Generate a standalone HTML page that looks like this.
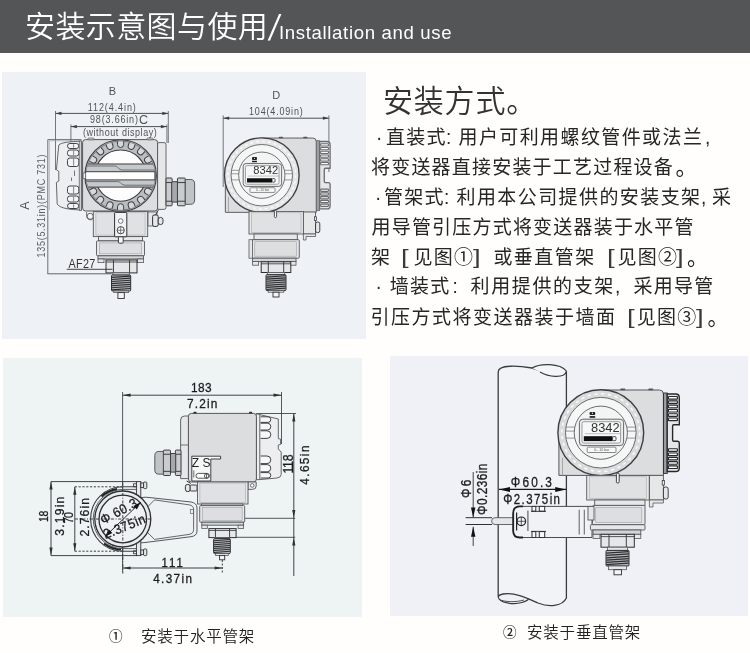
<!DOCTYPE html>
<html lang="zh-CN">
<head>
<meta charset="utf-8">
<title>安装示意图与使用</title>
<style>
html,body{margin:0;padding:0;}
body{width:750px;height:653px;position:relative;overflow:hidden;background:#fffefc;font-family:"Liberation Sans","Noto Sans CJK SC",sans-serif;color:#222;}
.hdr{position:absolute;left:0;top:0;width:750px;height:52.5px;background:#545557;}
.hdr span{position:absolute;color:#fff;white-space:nowrap;will-change:transform;}
.hdr .cn{left:25px;top:7px;font-size:30px;line-height:40px;font-weight:350;letter-spacing:0.4px;}
.hdr .sl{left:266.8px;top:5.6px;font-family:"DejaVu Sans","DejaVu Sans Light",sans-serif;font-size:32px;line-height:40px;font-weight:200;transform:scaleX(1.4);transform-origin:0 0;}
.hdr .en{left:279px;top:21px;font-size:18.6px;line-height:24px;font-weight:400;letter-spacing:0.65px;}
.panel{position:absolute;}
#p1{left:2px;top:72px;width:364px;height:267px;background:#eef2f6;}
#p2{left:3px;top:358px;width:359px;height:259px;background:#eef3f4;}
#p3{left:390px;top:356px;width:358px;height:259.5px;background:#f0f1f6;}
.txt{position:absolute;left:0;top:0;width:750px;height:0;will-change:transform;}
.txt h2{transform:scaleY(1.04);transform-origin:0 50%;position:absolute;left:383px;top:79.6px;margin:0;font-weight:350;font-size:30px;line-height:44px;color:#333;letter-spacing:0.8px;white-space:nowrap;}
.txt p{transform:scaleY(1.045);transform-origin:0 50%;position:absolute;left:0;margin:0;width:750px;height:30px;font-size:19px;letter-spacing:1.2px;line-height:30px;color:#262626;white-space:nowrap;font-weight:400;}
.txt p span{position:absolute;top:0;}
.txt p span.bk{transform:scaleX(1.45);transform-origin:0 50%;color:#3a3a3a;}
.cap{will-change:transform;position:absolute;font-size:15.5px;letter-spacing:0.8px;line-height:22px;color:#222;white-space:nowrap;font-weight:350;}
svg{position:absolute;left:0;top:0;overflow:visible;will-change:transform;filter:blur(0.3px);}
svg text{font-family:"Liberation Sans","Noto Sans CJK SC",sans-serif;}
</style>
</head>
<body>
<div class="hdr"><span class="cn">安装示意图与使用</span><span class="sl">/</span><span class="en">Installation and use</span></div>
<div class="panel" id="p1"></div>
<div class="panel" id="p2"></div>
<div class="panel" id="p3"></div>
<svg width="750" height="653" viewBox="0 0 750 653">
<line x1="55.5" y1="111" x2="55.5" y2="170" stroke="#55585b" stroke-width="0.8" />
<line x1="168.3" y1="111" x2="168.3" y2="143" stroke="#55585b" stroke-width="0.8" />
<line x1="70.9" y1="124.4" x2="70.9" y2="143" stroke="#55585b" stroke-width="0.8" />
<line x1="166.9" y1="124.4" x2="166.9" y2="143" stroke="#55585b" stroke-width="0.8" />
<path d="M81.5,139.6 H47.8 V274" fill="none" stroke="#5f6265" stroke-width="0.9" />
<path d="M81.5,140.8 H49.4 V210" fill="none" stroke="#9a9da0" stroke-width="0.6" />
<path d="M81.5,141.2 C70,141.5 61,142.5 58.8,145 L56.4,169.8 L58.8,171.3 V181 L56.4,182.4 L57.2,204 C60,208.5 70,209.6 81.5,210 Z" fill="#eceef0" stroke="#55585b" stroke-width="0.9" />
<rect x="67.5" y="143.5" width="11.3" height="5" rx="2.4" fill="#f3f4f5" stroke="#2e3032" stroke-width="0.9" />
<line x1="73.6" y1="144.3" x2="73.6" y2="147.7" stroke="#55585b" stroke-width="0.7" />
<rect x="67.5" y="150" width="11.3" height="6" rx="2.4" fill="#f3f4f5" stroke="#2e3032" stroke-width="0.9" />
<line x1="73.6" y1="150.8" x2="73.6" y2="155.2" stroke="#55585b" stroke-width="0.7" />
<rect x="67.5" y="158" width="11.3" height="8.5" rx="2.4" fill="#f3f4f5" stroke="#2e3032" stroke-width="0.9" />
<line x1="73.6" y1="158.8" x2="73.6" y2="165.7" stroke="#55585b" stroke-width="0.7" />
<rect x="67.5" y="186" width="11.3" height="8" rx="2.4" fill="#f3f4f5" stroke="#2e3032" stroke-width="0.9" />
<line x1="73.6" y1="186.8" x2="73.6" y2="193.2" stroke="#55585b" stroke-width="0.7" />
<rect x="67.5" y="196" width="11.3" height="6" rx="2.4" fill="#f3f4f5" stroke="#2e3032" stroke-width="0.9" />
<line x1="73.6" y1="196.8" x2="73.6" y2="201.2" stroke="#55585b" stroke-width="0.7" />
<rect x="67.5" y="203.5" width="11.3" height="5" rx="2.4" fill="#f3f4f5" stroke="#2e3032" stroke-width="0.9" />
<line x1="73.6" y1="204.3" x2="73.6" y2="207.7" stroke="#55585b" stroke-width="0.7" />
<line x1="74.5" y1="170.5" x2="74.5" y2="176" stroke="#55585b" stroke-width="0.8" />
<line x1="71.5" y1="177.5" x2="71.5" y2="181" stroke="#55585b" stroke-width="0.8" />
<rect x="79.2" y="141" width="2.4" height="69.4" rx="0" fill="#cfd2d4" stroke="#55585b" stroke-width="0.7" />
<rect x="157" y="142.6" width="9" height="66.8" rx="2" fill="#e5e7e8" stroke="#55585b" stroke-width="0.9" />
<rect x="82.6" y="139.6" width="75" height="71.4" rx="3" fill="#dbdddf" stroke="#55585b" stroke-width="1" />
<rect x="88" y="138" width="6" height="1.8" rx="0.8" fill="#dbdddf" stroke="#55585b" stroke-width="0.7" />
<rect x="147" y="138" width="6" height="1.8" rx="0.8" fill="#dbdddf" stroke="#55585b" stroke-width="0.7" />
<circle cx="120.6" cy="175.6" r="35.8" fill="#bbbec1" stroke="#3c3e41" stroke-width="1.1" />
<circle cx="120.6" cy="175.6" r="34.5" fill="none" stroke="#5c5f62" stroke-width="0.7" />
<g transform="translate(120.6 175.6) rotate(-60)">
<path d="M-3.1,-34.2 V-31.2 A3.1,3.1 0 0 0 3.1,-31.2 V-34.2" fill="#d6d8da" stroke="#3c3e41" stroke-width="1" />
</g>
<g transform="translate(120.6 175.6) rotate(-40)">
<path d="M-3.1,-34.2 V-31.2 A3.1,3.1 0 0 0 3.1,-31.2 V-34.2" fill="#d6d8da" stroke="#3c3e41" stroke-width="1" />
</g>
<g transform="translate(120.6 175.6) rotate(-20)">
<path d="M-3.1,-34.2 V-31.2 A3.1,3.1 0 0 0 3.1,-31.2 V-34.2" fill="#d6d8da" stroke="#3c3e41" stroke-width="1" />
</g>
<g transform="translate(120.6 175.6) rotate(0)">
<path d="M-3.1,-34.2 V-31.2 A3.1,3.1 0 0 0 3.1,-31.2 V-34.2" fill="#d6d8da" stroke="#3c3e41" stroke-width="1" />
</g>
<g transform="translate(120.6 175.6) rotate(20)">
<path d="M-3.1,-34.2 V-31.2 A3.1,3.1 0 0 0 3.1,-31.2 V-34.2" fill="#d6d8da" stroke="#3c3e41" stroke-width="1" />
</g>
<g transform="translate(120.6 175.6) rotate(40)">
<path d="M-3.1,-34.2 V-31.2 A3.1,3.1 0 0 0 3.1,-31.2 V-34.2" fill="#d6d8da" stroke="#3c3e41" stroke-width="1" />
</g>
<g transform="translate(120.6 175.6) rotate(60)">
<path d="M-3.1,-34.2 V-31.2 A3.1,3.1 0 0 0 3.1,-31.2 V-34.2" fill="#d6d8da" stroke="#3c3e41" stroke-width="1" />
</g>
<g transform="translate(120.6 175.6) rotate(120)">
<path d="M-3.1,-34.2 V-31.2 A3.1,3.1 0 0 0 3.1,-31.2 V-34.2" fill="#d6d8da" stroke="#3c3e41" stroke-width="1" />
</g>
<g transform="translate(120.6 175.6) rotate(140)">
<path d="M-3.1,-34.2 V-31.2 A3.1,3.1 0 0 0 3.1,-31.2 V-34.2" fill="#d6d8da" stroke="#3c3e41" stroke-width="1" />
</g>
<g transform="translate(120.6 175.6) rotate(160)">
<path d="M-3.1,-34.2 V-31.2 A3.1,3.1 0 0 0 3.1,-31.2 V-34.2" fill="#d6d8da" stroke="#3c3e41" stroke-width="1" />
</g>
<g transform="translate(120.6 175.6) rotate(180)">
<path d="M-3.1,-34.2 V-31.2 A3.1,3.1 0 0 0 3.1,-31.2 V-34.2" fill="#d6d8da" stroke="#3c3e41" stroke-width="1" />
</g>
<g transform="translate(120.6 175.6) rotate(200)">
<path d="M-3.1,-34.2 V-31.2 A3.1,3.1 0 0 0 3.1,-31.2 V-34.2" fill="#d6d8da" stroke="#3c3e41" stroke-width="1" />
</g>
<g transform="translate(120.6 175.6) rotate(220)">
<path d="M-3.1,-34.2 V-31.2 A3.1,3.1 0 0 0 3.1,-31.2 V-34.2" fill="#d6d8da" stroke="#3c3e41" stroke-width="1" />
</g>
<g transform="translate(120.6 175.6) rotate(240)">
<path d="M-3.1,-34.2 V-31.2 A3.1,3.1 0 0 0 3.1,-31.2 V-34.2" fill="#d6d8da" stroke="#3c3e41" stroke-width="1" />
</g>
<clipPath id="cpfv"><circle cx="120.6" cy="175.6" r="25.6"/></clipPath>
<clipPath id="cpfv2"><circle cx="120.6" cy="175.6" r="34.4"/></clipPath>
<circle cx="120.6" cy="175.6" r="25.6" fill="#fdfdfd" stroke="#3c3e41" stroke-width="1.1" />
<g clip-path="url(#cpfv2)">
<rect x="84.6" y="163.8" width="72" height="23.4" rx="0" fill="#c6c9cb" stroke="none" stroke-width="0" />
<line x1="84.6" y1="164" x2="156.6" y2="164" stroke="#3c3e41" stroke-width="1" />
<line x1="84.6" y1="187.1" x2="156.6" y2="187.1" stroke="#3c3e41" stroke-width="1" />
<path d="M84.6,166 H114.6 C118.6,166 117.6,170 122.6,170 H156.6" fill="none" stroke="#55585b" stroke-width="0.8" />
<path d="M84.6,181.6 H117.6 C121.6,181.6 120.6,185.2 125.6,185.2 H156.6" fill="none" stroke="#55585b" stroke-width="0.8" />
</g>
<rect x="85.6" y="171.7" width="69.3" height="8.2" rx="0" fill="#fefefe" stroke="#3c3e41" stroke-width="1" />
<rect x="83.2" y="173" width="2.4" height="5.4" rx="0" fill="#f4f4f4" stroke="#55585b" stroke-width="0.6" />
<rect x="166" y="178.01" width="6.15" height="27.77" rx="0.8" fill="#c9ccce" stroke="#3c3e41" stroke-width="1.0" />
<rect x="171.72" y="181.72" width="6.36" height="20.35" rx="0.8" fill="#a6a9ac" stroke="#3c3e41" stroke-width="1.0" />
<rect x="177.45" y="178.01" width="7.84" height="27.77" rx="0.8" fill="#c9ccce" stroke="#3c3e41" stroke-width="1.0" />
<path d="M185.29,179.5 H190.62 Q194.62,179.5 194.62,183.95 V199.85 Q194.62,204.3 190.62,204.3 H185.29 Z" fill="#c1c4c7" stroke="#4a4c4f" stroke-width="0.9" />
<line x1="166" y1="182.57" x2="172.15" y2="182.57" stroke="#3c3e41" stroke-width="1.0" />
<line x1="166" y1="201.23" x2="172.15" y2="201.23" stroke="#3c3e41" stroke-width="1.0" />
<line x1="177.45" y1="182.57" x2="185.29" y2="182.57" stroke="#3c3e41" stroke-width="1.0" />
<line x1="177.45" y1="201.23" x2="185.29" y2="201.23" stroke="#3c3e41" stroke-width="1.0" />
<rect x="93.3" y="211.6" width="54.4" height="25" rx="0" fill="#e5e7e8" stroke="#55585b" stroke-width="0.9" />
<rect x="95.9" y="212.8" width="49.2" height="22.3" rx="0" fill="#dfe1e3" stroke="#a9acaf" stroke-width="0.6" />
<rect x="98.5" y="236.6" width="44" height="4.3" rx="0" fill="#e5e7e8" stroke="#55585b" stroke-width="0.9" />
<rect x="96.5" y="240.9" width="48" height="14.9" rx="1" fill="#e5e7e8" stroke="#55585b" stroke-width="0.9" />
<rect x="99.3" y="242.9" width="42.4" height="10.9" rx="0" fill="#dcdee0" stroke="#9ea1a4" stroke-width="0.6" />
<rect x="98" y="255.8" width="45.5" height="3.2" rx="0" fill="#d2d4d6" stroke="#55585b" stroke-width="0.9" />
<rect x="98" y="259" width="6" height="3.6" rx="0" fill="#e5e7e8" stroke="#55585b" stroke-width="0.8" />
<rect x="137.5" y="259" width="6" height="3.6" rx="0" fill="#e5e7e8" stroke="#55585b" stroke-width="0.8" />
<rect x="106" y="260" width="31" height="12.9" rx="0" fill="#e5e7e8" stroke="#2e3032" stroke-width="1" />
<line x1="113.44" y1="260" x2="113.44" y2="272.9" stroke="#2e3032" stroke-width="0.9" />
<line x1="129.56" y1="260" x2="129.56" y2="272.9" stroke="#2e3032" stroke-width="0.9" />
<line x1="106" y1="262" x2="137" y2="262" stroke="#2e3032" stroke-width="0.8" />
<rect x="112.8" y="272.9" width="16.6" height="2.1" rx="0" fill="#e5e7e8" stroke="#55585b" stroke-width="0.8" />
<rect x="111.5" y="275" width="19.2" height="16" rx="1" fill="#b4b6b9" stroke="#2e3032" stroke-width="1" />
<line x1="111.8" y1="277.4" x2="130.4" y2="276.1" stroke="#2c2e30" stroke-width="1.1" />
<line x1="111.8" y1="279.47" x2="130.4" y2="278.17" stroke="#2c2e30" stroke-width="1.1" />
<line x1="111.8" y1="281.54" x2="130.4" y2="280.24" stroke="#2c2e30" stroke-width="1.1" />
<line x1="111.8" y1="283.61" x2="130.4" y2="282.31" stroke="#2c2e30" stroke-width="1.1" />
<line x1="111.8" y1="285.69" x2="130.4" y2="284.39" stroke="#2c2e30" stroke-width="1.1" />
<line x1="111.8" y1="287.76" x2="130.4" y2="286.46" stroke="#2c2e30" stroke-width="1.1" />
<line x1="111.8" y1="289.83" x2="130.4" y2="288.53" stroke="#2c2e30" stroke-width="1.1" />
<rect x="113.7" y="291" width="14.8" height="1.6" rx="0" fill="#e5e7e8" stroke="#55585b" stroke-width="0.8" />
<rect x="117.9" y="292.6" width="6.4" height="5.9" rx="0" fill="#f3f4f4" stroke="#2e3032" stroke-width="0.9" />
<circle cx="90.2" cy="216.3" r="3" fill="#f4f5f5" stroke="#55585b" stroke-width="0.9" />
<path d="M86.6,212 V216 A3.8,3.8 0 0 0 93.3,218.5" fill="none" stroke="#55585b" stroke-width="0.8" />
<rect x="114.6" y="212.4" width="12.2" height="24.4" rx="0.8" fill="#f1f2f3" stroke="#2e3032" stroke-width="1" />
<circle cx="120.7" cy="221" r="2.3" fill="#fff" stroke="#55585b" stroke-width="0.8" />
<circle cx="120.7" cy="230.2" r="3.6" fill="#fff" stroke="#2e3032" stroke-width="0.9" />
<line x1="117.1" y1="230.2" x2="124.3" y2="230.2" stroke="#55585b" stroke-width="0.8" />
<line x1="120.7" y1="226.6" x2="120.7" y2="233.8" stroke="#55585b" stroke-width="0.8" />
<rect x="118.4" y="236.8" width="4.8" height="6.4" rx="1" fill="#f7f7f7" stroke="#2e3032" stroke-width="0.9" />
<path d="M148,212 H157 V222 L152.4,226 H148 Z" fill="#e5e7e8" stroke="#55585b" stroke-width="0.8" />
<rect x="152.6" y="215" width="5.6" height="11.4" rx="1.5" fill="#e5e7e8" stroke="#2e3032" stroke-width="1" />
<rect x="158.2" y="217.4" width="4.8" height="7.2" rx="2.4" fill="#e5e7e8" stroke="#2e3032" stroke-width="0.9" />
<line x1="155.5" y1="215" x2="158.6" y2="209.6" stroke="#2e3032" stroke-width="0.9" />
<text x="112.4" y="95.4" font-size="11" text-anchor="middle" fill="#505356" >B</text>
<text font-size="10" letter-spacing="1.03" fill="#505356" transform="translate(87.7 111) scale(0.9 1)">112(4.4in)</text>
<line x1="55.5" y1="113.4" x2="168.3" y2="113.4" stroke="#3c3e41" stroke-width="0.9" /><polygon points="55.5,113.4 61.5,111.8 61.5,115" fill="#3c3e41"/><polygon points="168.3,113.4 162.3,115 162.3,111.8" fill="#3c3e41"/>
<text font-size="10" letter-spacing="0.92" fill="#505356" transform="translate(90 123.4) scale(0.9 1)">98(3.66in)</text>
<text x="143.4" y="124.2" font-size="12.5" text-anchor="middle" fill="#505356" >C</text>
<line x1="70.9" y1="126.6" x2="166.9" y2="126.6" stroke="#3c3e41" stroke-width="0.9" /><polygon points="70.9,126.6 76.9,125 76.9,128.2" fill="#3c3e41"/><polygon points="166.9,126.6 160.9,128.2 160.9,125" fill="#3c3e41"/>
<text font-size="10" letter-spacing="0.62" fill="#505356" transform="translate(82.9 135.8) scale(0.9 1)">(without display)</text>
<text font-size="10" letter-spacing="0.83" fill="#5c5f62" transform="translate(44.9 257.6) rotate(-90) scale(0.9 1)">135(5.31in)(PMC 731)</text>
<text x="0" y="0" font-size="12.5" text-anchor="middle" fill="#505356" transform="translate(29 205.5) rotate(-90)">A</text>
<line x1="47.6" y1="273.8" x2="111.5" y2="273.8" stroke="#55585b" stroke-width="0.9" />
<text font-size="12" letter-spacing="0.29" fill="#333" transform="translate(68.6 267.8) scale(0.9 1)">AF27</text>
<line x1="66.7" y1="269.3" x2="112.5" y2="269.3" stroke="#2e3032" stroke-width="0.9" />
<line x1="223.2" y1="115.4" x2="223.2" y2="187" stroke="#55585b" stroke-width="0.8" />
<line x1="328.9" y1="115.4" x2="328.9" y2="172" stroke="#55585b" stroke-width="0.8" />
<g transform="translate(261.8 175.2) scale(0.87)">
<path d="M-41.9,0 V42.7 H62.6 V-38.7 Q62.6,-42.7 58.6,-42.7 H0 Z" fill="#dbdddf" stroke="#55585b" stroke-width="1.09" />
<line x1="-38.3" y1="25" x2="-38.3" y2="42.7" stroke="#8b8e91" stroke-width="0.76" />
<rect x="19.5" y="-44.3" width="5" height="1.8" rx="0.8" fill="#555" stroke="none" stroke-width="0" />
<rect x="47.5" y="-44.3" width="5" height="1.8" rx="0.8" fill="#555" stroke="none" stroke-width="0" />
<rect x="62.8" y="-39.7" width="3.6" height="80.4" rx="0" fill="#9da0a3" stroke="#6a6d70" stroke-width="0.98" />
<path d="M66.4,-38.7 H75 Q78.5,-38.7 78.5,-35 V-8 H73 Q71.8,-8 71.8,-6.5 V7 Q71.8,8.5 73,8.5 H76.5 Q78.5,8.5 78.5,10.5 V35 Q78.5,38.8 75,38.8 H66.4 Z" fill="#e4e6e7" stroke="#6a6d70" stroke-width="1.52" />
<rect x="67.6" y="-36.2" width="9" height="2.6" rx="0.6" fill="#fafafa" stroke="#6a6d70" stroke-width="1.25" />
<rect x="67.6" y="-31.9" width="9" height="2.6" rx="0.6" fill="#fafafa" stroke="#6a6d70" stroke-width="1.25" />
<rect x="67.6" y="-27.6" width="9" height="2.6" rx="0.6" fill="#fafafa" stroke="#6a6d70" stroke-width="1.25" />
<rect x="67.6" y="-23.3" width="9" height="2.6" rx="0.6" fill="#fafafa" stroke="#6a6d70" stroke-width="1.25" />
<rect x="67.6" y="-19" width="9" height="2.6" rx="0.6" fill="#fafafa" stroke="#6a6d70" stroke-width="1.25" />
<rect x="67.6" y="-14.7" width="9" height="2.6" rx="0.6" fill="#fafafa" stroke="#6a6d70" stroke-width="1.25" />
<rect x="67.6" y="16" width="9" height="2.6" rx="0.6" fill="#fafafa" stroke="#6a6d70" stroke-width="1.25" />
<rect x="67.6" y="20.3" width="9" height="2.6" rx="0.6" fill="#fafafa" stroke="#6a6d70" stroke-width="1.25" />
<rect x="67.6" y="24.6" width="9" height="2.6" rx="0.6" fill="#fafafa" stroke="#6a6d70" stroke-width="1.25" />
<rect x="67.6" y="28.9" width="9" height="2.6" rx="0.6" fill="#fafafa" stroke="#6a6d70" stroke-width="1.25" />
<rect x="67.6" y="33.2" width="9" height="2.6" rx="0.6" fill="#fafafa" stroke="#6a6d70" stroke-width="1.25" />
<circle cx="0" cy="0" r="42.9" fill="#e4e6e7" stroke="#3c3e41" stroke-width="1.52" />
<circle cx="0" cy="0" r="38.9" fill="none" stroke="#fbfbfb" stroke-width="1.63" stroke-dasharray="3.2 3.59"/>
<circle cx="0" cy="0" r="35.3" fill="#f5f6f6" stroke="#5a5c5f" stroke-width="0.98" />
<line x1="-34.85" y1="-5.6" x2="34.85" y2="-5.6" stroke="#7a7d80" stroke-width="0.87" />
<line x1="-35.26" y1="-1.6" x2="35.26" y2="-1.6" stroke="#7a7d80" stroke-width="0.87" />
<line x1="-34.88" y1="5.4" x2="34.88" y2="5.4" stroke="#7a7d80" stroke-width="0.87" />
<circle cx="0" cy="0" r="26.6" fill="#f3f4f4" stroke="#5a5c5f" stroke-width="0.98" />
<rect x="-11.2" y="-20.8" width="5.6" height="3.2" rx="0.8" fill="#1e1e1e" stroke="none" stroke-width="0" />
<rect x="-11.2" y="-16.6" width="5.6" height="1.7" rx="0" fill="#1e1e1e" stroke="none" stroke-width="0" />
<circle cx="-8.4" cy="-19.4" r="0.7" fill="#eee" stroke="none" stroke-width="0" />
<rect x="-21.4" y="-13.5" width="44.2" height="26.4" rx="3.5" fill="#eceeee" stroke="#55585b" stroke-width="0.98" />
<rect x="-18.8" y="-11" width="38.6" height="21.4" rx="2" fill="#f6f7f7" stroke="#77797c" stroke-width="0.76" />
<text x="-9.8" y="-1.1" font-size="12.5" font-family="Liberation Mono,monospace" fill="#333" textLength="28.6" lengthAdjust="spacingAndGlyphs">8342</text>
<line x1="-16" y1="1" x2="20" y2="1" stroke="#888" stroke-width="0.54" />
<rect x="-17" y="3.5" width="28.8" height="4.9" rx="0" fill="#101010" stroke="none" stroke-width="0" />
<rect x="11.8" y="3.9" width="3.4" height="4.1" rx="1" fill="#fafafa" stroke="#222" stroke-width="0.87" />
<rect x="-13.6" y="14.4" width="28.8" height="5.4" rx="1" fill="#f8f8f8" stroke="#6a6d70" stroke-width="0.87" />
<text x="1" y="18.6" font-size="3.6" text-anchor="middle" fill="#555">0...10 bar</text>
</g>
<rect x="249" y="211.6" width="54.6" height="22.4" rx="0" fill="#e5e7e8" stroke="#55585b" stroke-width="0.9" />
<rect x="251.6" y="212.8" width="49.4" height="19.7" rx="0" fill="#dfe1e3" stroke="#a9acaf" stroke-width="0.6" />
<rect x="254" y="234" width="43.3" height="5.7" rx="0" fill="#e5e7e8" stroke="#55585b" stroke-width="0.9" />
<rect x="252" y="239.7" width="47.3" height="18.5" rx="1" fill="#e5e7e8" stroke="#55585b" stroke-width="0.9" />
<rect x="254.8" y="241.7" width="41.7" height="14.5" rx="0" fill="#dcdee0" stroke="#9ea1a4" stroke-width="0.6" />
<rect x="252.6" y="258.2" width="43.4" height="3.4" rx="0" fill="#d2d4d6" stroke="#55585b" stroke-width="0.9" />
<rect x="252.6" y="261.6" width="6" height="3.6" rx="0" fill="#e5e7e8" stroke="#55585b" stroke-width="0.8" />
<rect x="290" y="261.6" width="6" height="3.6" rx="0" fill="#e5e7e8" stroke="#55585b" stroke-width="0.8" />
<rect x="261.2" y="261.8" width="29.6" height="10.7" rx="0" fill="#e5e7e8" stroke="#2e3032" stroke-width="1" />
<line x1="268.3" y1="261.8" x2="268.3" y2="272.5" stroke="#2e3032" stroke-width="0.9" />
<line x1="283.7" y1="261.8" x2="283.7" y2="272.5" stroke="#2e3032" stroke-width="0.9" />
<line x1="261.2" y1="263.8" x2="290.8" y2="263.8" stroke="#2e3032" stroke-width="0.8" />
<rect x="267.3" y="272.5" width="17.4" height="2.2" rx="0" fill="#e5e7e8" stroke="#55585b" stroke-width="0.8" />
<rect x="266" y="274.7" width="20" height="15.9" rx="1" fill="#b4b6b9" stroke="#2e3032" stroke-width="1" />
<line x1="266.3" y1="277.1" x2="285.7" y2="275.8" stroke="#2c2e30" stroke-width="1.1" />
<line x1="266.3" y1="279.16" x2="285.7" y2="277.86" stroke="#2c2e30" stroke-width="1.1" />
<line x1="266.3" y1="281.21" x2="285.7" y2="279.91" stroke="#2c2e30" stroke-width="1.1" />
<line x1="266.3" y1="283.27" x2="285.7" y2="281.97" stroke="#2c2e30" stroke-width="1.1" />
<line x1="266.3" y1="285.33" x2="285.7" y2="284.03" stroke="#2c2e30" stroke-width="1.1" />
<line x1="266.3" y1="287.39" x2="285.7" y2="286.09" stroke="#2c2e30" stroke-width="1.1" />
<line x1="266.3" y1="289.44" x2="285.7" y2="288.14" stroke="#2c2e30" stroke-width="1.1" />
<rect x="268.2" y="290.6" width="15.6" height="1.6" rx="0" fill="#e5e7e8" stroke="#55585b" stroke-width="0.8" />
<rect x="273" y="292.2" width="6" height="4.8" rx="0" fill="#f3f4f4" stroke="#2e3032" stroke-width="0.9" /><rect x="249" y="239.7" width="3.6" height="18.5" rx="0" fill="#e5e7e8" stroke="#55585b" stroke-width="0.8" />
<rect x="303.4" y="212" width="12.2" height="22" rx="0" fill="#e5e7e8" stroke="#55585b" stroke-width="0.9" />
<path d="M303.4,234 H315.6 V236.5 H306 V240 H303.4 Z" fill="#e5e7e8" stroke="#55585b" stroke-width="0.8" />
<rect x="315.6" y="222" width="4.2" height="10.6" rx="1.8" fill="#e5e7e8" stroke="#2e3032" stroke-width="0.9" />
<rect x="314.4" y="216.8" width="2.2" height="3.6" rx="0" fill="#e5e7e8" stroke="#2e3032" stroke-width="0.7" />
<rect x="274.4" y="210.6" width="2.2" height="7" rx="1" fill="#f5f5f5" stroke="#2e3032" stroke-width="0.8" />
<text x="276.2" y="99" font-size="11" text-anchor="middle" fill="#505356" >D</text>
<text font-size="10" letter-spacing="0.92" fill="#505356" transform="translate(249 114.6) scale(0.9 1)">104(4.09in)</text>
<line x1="223.2" y1="118.2" x2="328.9" y2="118.2" stroke="#3c3e41" stroke-width="0.9" /><polygon points="223.2,118.2 229.2,116.6 229.2,119.8" fill="#3c3e41"/><polygon points="328.9,118.2 322.9,119.8 322.9,116.6" fill="#3c3e41"/>
<line x1="122.6" y1="392" x2="122.6" y2="572" stroke="#2e3032" stroke-width="0.8" />
<line x1="281.5" y1="392" x2="281.5" y2="444" stroke="#2e3032" stroke-width="0.8" />
<line x1="256" y1="413.5" x2="296" y2="413.5" stroke="#2e3032" stroke-width="0.8" />
<line x1="244.7" y1="518.3" x2="295.2" y2="518.3" stroke="#2e3032" stroke-width="0.8" />
<line x1="236" y1="537.3" x2="295.2" y2="537.3" stroke="#2e3032" stroke-width="0.8" />
<line x1="74.8" y1="519" x2="197" y2="519" stroke="#2e3032" stroke-width="0.9" stroke-dasharray="3.2 1.6 1 1.6"/>
<line x1="122.8" y1="482.6" x2="122.8" y2="573.6" stroke="#2e3032" stroke-width="0.9" stroke-dasharray="3.2 1.6 1 1.6"/>
<line x1="222.3" y1="560" x2="222.3" y2="572.8" stroke="#2e3032" stroke-width="0.9" stroke-dasharray="2 1.5"/>
<line x1="74.8" y1="486.8" x2="122" y2="486.8" stroke="#2e3032" stroke-width="0.9" stroke-dasharray="2.2 1.6"/>
<line x1="74.8" y1="551.2" x2="122" y2="551.2" stroke="#2e3032" stroke-width="0.9" stroke-dasharray="2.2 1.6"/>
<line x1="51" y1="481.6" x2="137" y2="481.6" stroke="#2e3032" stroke-width="0.9" />
<line x1="51" y1="555.6" x2="137" y2="555.6" stroke="#2e3032" stroke-width="0.9" />
<path d="M140.7,497.6 L146,497.2 L191,502 Q197,503 197,508 V531 Q197,536 191,536.7 L146,542.4 L140.7,542.9" fill="#eef1f3" stroke="#55585b" stroke-width="1" />
<path d="M147,507.5 L154.5,499.9 L189,504.8 Q193.6,505.5 193.6,509.5 V529.5 Q193.6,533.8 189,534.4 L154.5,539.4 L147,532" fill="none" stroke="#55585b" stroke-width="0.9" />
<rect x="190.6" y="509.5" width="2.8" height="4" rx="0" fill="none" stroke="#55585b" stroke-width="0.6" />
<rect x="136.4" y="481.6" width="4.4" height="74" rx="0" fill="#e6e8ea" stroke="#2e3032" stroke-width="0.9" />
<rect x="140.8" y="483" width="2.8" height="4.6" rx="0" fill="#e5e7e8" stroke="#2e3032" stroke-width="0.9" />
<rect x="143.6" y="482" width="3.2" height="6.6" rx="1" fill="#e5e7e8" stroke="#2e3032" stroke-width="0.9" />
<rect x="133.6" y="483.8" width="2.8" height="3" rx="0" fill="#e5e7e8" stroke="#2e3032" stroke-width="0.8" />
<rect x="140.8" y="550" width="2.8" height="4.6" rx="0" fill="#e5e7e8" stroke="#2e3032" stroke-width="0.9" />
<rect x="143.6" y="549" width="3.2" height="6.6" rx="1" fill="#e5e7e8" stroke="#2e3032" stroke-width="0.9" />
<rect x="133.6" y="550.8" width="2.8" height="3" rx="0" fill="#e5e7e8" stroke="#2e3032" stroke-width="0.8" />
<path d="M136.4,486.8 H122.8 A32.2,32.2 0 0 0 122.8,551.2 H136.4" fill="none" stroke="#3c3e41" stroke-width="1.1" />
<path d="M136.4,489.4 H122.8 A29.6,29.6 0 0 0 122.8,548.6 H136.4" fill="none" stroke="#4a4c4f" stroke-width="0.9" />
<path d="M101.5,496.5 A30.6,30.6 0 0 1 117,489" fill="none" stroke="#222" stroke-width="1.8" />
<path d="M104,543.5 A30.6,30.6 0 0 0 121,549.6" fill="none" stroke="#222" stroke-width="1.8" />
<circle cx="122.8" cy="519" r="28" fill="#e9ecee" stroke="#2e3032" stroke-width="1.3" />
<circle cx="122.8" cy="519" r="23.8" fill="#eef2f4" stroke="#2e3032" stroke-width="1.3" />
<line x1="96" y1="519" x2="152" y2="519" stroke="#2e3032" stroke-width="0.9" stroke-dasharray="3.2 1.6 1 1.6"/>
<line x1="122.8" y1="493" x2="122.8" y2="545" stroke="#2e3032" stroke-width="0.9" stroke-dasharray="3.2 1.6 1 1.6"/>
<path d="M188.6,416 H184.6 Q180.6,416 180.6,420 V478.6 H188.6 Z" fill="#e5e7e8" stroke="#55585b" stroke-width="0.9" />
<line x1="180.6" y1="445" x2="188.6" y2="445" stroke="#55585b" stroke-width="0.8" />
<rect x="175.37" y="450.09" width="5.63" height="25.41" rx="0.8" fill="#c9ccce" stroke="#3c3e41" stroke-width="1.0" />
<rect x="169.94" y="453.49" width="5.82" height="18.62" rx="0.8" fill="#a6a9ac" stroke="#3c3e41" stroke-width="1.0" />
<rect x="163.35" y="450.09" width="7.18" height="25.41" rx="0.8" fill="#c9ccce" stroke="#3c3e41" stroke-width="1.0" />
<path d="M163.35,451.45 H158.81 Q154.81,451.45 154.81,455.53 V470.07 Q154.81,474.15 158.81,474.15 H163.35 Z" fill="#c1c4c7" stroke="#4a4c4f" stroke-width="0.9" />
<line x1="175.37" y1="454.26" x2="181" y2="454.26" stroke="#3c3e41" stroke-width="1.0" />
<line x1="175.37" y1="471.34" x2="181" y2="471.34" stroke="#3c3e41" stroke-width="1.0" />
<line x1="163.35" y1="454.26" x2="170.52" y2="454.26" stroke="#3c3e41" stroke-width="1.0" />
<line x1="163.35" y1="471.34" x2="170.52" y2="471.34" stroke="#3c3e41" stroke-width="1.0" />
<path d="M256.2,413.6 L259.8,414.6 L278.3,419 V438.6 L280.6,439.2 V444.4 L278.3,445 V449 L281.2,452 V474.5 Q281,477.6 277,478 L259.8,479.6 H256.2 Z" fill="#eceeef" stroke="#55585b" stroke-width="0.9" />
<path d="M260.6,416.8 H268 A2.8,2.8 0 0 1 268,422.4 H260.6" fill="#f7f8f8" stroke="#2e3032" stroke-width="0.9" />
<path d="M260.6,423.2 H267.4 A3.4,3.4 0 0 1 267.4,430 H260.6" fill="#f7f8f8" stroke="#2e3032" stroke-width="0.9" />
<path d="M260.6,430.8 H267 A3.8,3.8 0 0 1 267,438.4 H260.6" fill="#f7f8f8" stroke="#2e3032" stroke-width="0.9" />
<path d="M260.6,456 H267 A3.8,3.8 0 0 1 267,463.6 H260.6" fill="#f7f8f8" stroke="#2e3032" stroke-width="0.9" />
<path d="M260.6,464.6 H267.2 A3.6,3.6 0 0 1 267.2,471.8 H260.6" fill="#f7f8f8" stroke="#2e3032" stroke-width="0.9" />
<path d="M260.6,472.6 H268.1 A2.7,2.7 0 0 1 268.1,478 H260.6" fill="#f7f8f8" stroke="#2e3032" stroke-width="0.9" />
<line x1="259.8" y1="414.6" x2="259.8" y2="479.6" stroke="#55585b" stroke-width="0.9" />
<rect x="188.4" y="413.4" width="68" height="68.6" rx="3" fill="#dbdddf" stroke="#55585b" stroke-width="1" />
<rect x="193.4" y="411.8" width="3.2" height="1.8" rx="0.7" fill="#333" stroke="none" stroke-width="0" />
<rect x="249" y="411.8" width="3.2" height="1.8" rx="0.7" fill="#333" stroke="none" stroke-width="0" />
<path d="M191.8,456.2 H220.6 V459 H210.8 V481 H191.8 Z" fill="#f6f7f7" stroke="#2e3032" stroke-width="0.9" />
<text x="195.4" y="467.4" font-size="12" text-anchor="middle" fill="#222" >Z</text>
<text x="206.6" y="467.4" font-size="12" text-anchor="middle" fill="#222" >S</text>
<rect x="196" y="473.4" width="13.4" height="4.8" rx="2.3" fill="#fff" stroke="#2e3032" stroke-width="0.8" />
<circle cx="206.6" cy="475.9" r="2.2" fill="#fff" stroke="#2e3032" stroke-width="0.8" />
<line x1="206.6" y1="473.7" x2="206.6" y2="478.1" stroke="#2e3032" stroke-width="0.8" />
<line x1="193.8" y1="470.5" x2="193.8" y2="477.5" stroke="#2e3032" stroke-width="0.7" />
<path d="M248,482 H256.2 V486 Q256.2,489.4 252.4,489.4 H248 Z" fill="#e5e7e8" stroke="#55585b" stroke-width="0.9" />
<circle cx="252.2" cy="485.4" r="1.8" fill="#fafafa" stroke="#55585b" stroke-width="0.8" />
<path d="M190.8,483.4 L186.6,481" fill="none" stroke="#2e3032" stroke-width="1" />
<rect x="185.4" y="484.4" width="4.8" height="7.2" rx="2.2" fill="#e5e7e8" stroke="#2e3032" stroke-width="1" />
<rect x="190.2" y="485" width="6.8" height="6" rx="1" fill="#e5e7e8" stroke="#2e3032" stroke-width="0.9" />
<rect x="197.5" y="482" width="50.5" height="22" rx="0" fill="#e5e7e8" stroke="#55585b" stroke-width="0.9" />
<rect x="199.89" y="483.1" width="45.72" height="19.52" rx="0" fill="#dfe1e3" stroke="#a9acaf" stroke-width="0.6" />
<rect x="201.54" y="504" width="41.32" height="1.6" rx="0" fill="#e5e7e8" stroke="#55585b" stroke-width="0.9" />
<rect x="199.7" y="505.6" width="45" height="16.6" rx="1" fill="#e5e7e8" stroke="#55585b" stroke-width="0.9" />
<rect x="202.28" y="507.44" width="39.85" height="12.92" rx="0" fill="#dcdee0" stroke="#9ea1a4" stroke-width="0.6" />
<rect x="201.8" y="522.2" width="41.8" height="3" rx="0" fill="#d2d4d6" stroke="#55585b" stroke-width="0.9" />
<rect x="201.8" y="525.2" width="5.52" height="3.31" rx="0" fill="#e5e7e8" stroke="#55585b" stroke-width="0.8" />
<rect x="238.08" y="525.2" width="5.52" height="3.31" rx="0" fill="#e5e7e8" stroke="#55585b" stroke-width="0.8" />
<rect x="208.9" y="528.6" width="27.2" height="9" rx="0" fill="#e5e7e8" stroke="#2e3032" stroke-width="1" />
<line x1="215.43" y1="528.6" x2="215.43" y2="537.6" stroke="#2e3032" stroke-width="0.9" />
<line x1="229.57" y1="528.6" x2="229.57" y2="537.6" stroke="#2e3032" stroke-width="0.9" />
<line x1="208.9" y1="530.44" x2="236.1" y2="530.44" stroke="#2e3032" stroke-width="0.8" />
<rect x="214.8" y="537.6" width="14.31" height="1" rx="0" fill="#e5e7e8" stroke="#55585b" stroke-width="0.8" />
<rect x="213.6" y="538.6" width="16.7" height="15" rx="1" fill="#b4b6b9" stroke="#2e3032" stroke-width="1" />
<line x1="213.9" y1="540.81" x2="230" y2="539.61" stroke="#2c2e30" stroke-width="1.0120000000000002" />
<line x1="213.9" y1="542.75" x2="230" y2="541.56" stroke="#2c2e30" stroke-width="1.0120000000000002" />
<line x1="213.9" y1="544.7" x2="230" y2="543.5" stroke="#2c2e30" stroke-width="1.0120000000000002" />
<line x1="213.9" y1="546.65" x2="230" y2="545.45" stroke="#2c2e30" stroke-width="1.0120000000000002" />
<line x1="213.9" y1="548.59" x2="230" y2="547.39" stroke="#2c2e30" stroke-width="1.0120000000000002" />
<line x1="213.9" y1="550.54" x2="230" y2="549.34" stroke="#2c2e30" stroke-width="1.0120000000000002" />
<line x1="213.9" y1="552.48" x2="230" y2="551.29" stroke="#2c2e30" stroke-width="1.0120000000000002" />
<rect x="215.62" y="553.6" width="12.65" height="1.8" rx="0" fill="#e5e7e8" stroke="#55585b" stroke-width="0.8" />
<rect x="219.6" y="555.4" width="5.1" height="4.4" rx="0" fill="#f3f4f4" stroke="#2e3032" stroke-width="0.9" />
<text font-size="13.2" letter-spacing="0.44" fill="#1c1c1e" stroke="#1c1c1e" stroke-width="0.3" transform="translate(191 391.8) scale(0.9 1)">183</text>
<line x1="122.6" y1="395.2" x2="281.5" y2="395.2" stroke="#2e3032" stroke-width="0.9" /><polygon points="122.6,395.2 130.6,393.6 130.6,396.8" fill="#2e3032"/><polygon points="281.5,395.2 273.5,396.8 273.5,393.6" fill="#2e3032"/>
<text font-size="13.2" letter-spacing="1.29" fill="#1c1c1e" stroke="#1c1c1e" stroke-width="0.3" transform="translate(187 408) scale(0.9 1)">7.2in</text>
<line x1="293.8" y1="413.6" x2="293.8" y2="576" stroke="#2e3032" stroke-width="0.9" />
<polygon points="293.8,413.6 295.4,421.6 292.2,421.6" fill="#2e3032"/>
<polygon points="293.8,518 292.2,510 295.4,510" fill="#2e3032"/>
<polygon points="293.8,537.5 295.4,545.5 292.2,545.5" fill="#2e3032"/>
<text font-size="14" letter-spacing="-0.3" fill="#1c1c1e" stroke="#1c1c1e" stroke-width="0.3" transform="translate(292.8 473.6) rotate(-90) scale(0.88 1)">118</text>
<text font-size="13" letter-spacing="1.63" fill="#1c1c1e" stroke="#1c1c1e" stroke-width="0.3" transform="translate(309.2 484.8) rotate(-90) scale(0.9 1)">4.65in</text>
<line x1="51" y1="481.6" x2="51" y2="555.6" stroke="#2e3032" stroke-width="0.9" /><polygon points="51,481.6 52.6,489.6 49.4,489.6" fill="#2e3032"/><polygon points="51,555.6 49.4,547.6 52.6,547.6" fill="#2e3032"/>
<line x1="74.8" y1="486.8" x2="74.8" y2="551.2" stroke="#2e3032" stroke-width="0.9" /><polygon points="74.8,486.8 76.4,494.8 73.2,494.8" fill="#2e3032"/><polygon points="74.8,551.2 73.2,543.2 76.4,543.2" fill="#2e3032"/>
<text font-size="13.5" letter-spacing="-0.3" fill="#1c1c1e" stroke="#1c1c1e" stroke-width="0.3" transform="translate(47.6 522) rotate(-90) scale(0.77 1)">18</text>
<text font-size="13.5" letter-spacing="1.35" fill="#1c1c1e" stroke="#1c1c1e" stroke-width="0.3" transform="translate(63.8 535.8) rotate(-90) scale(0.9 1)">3.19in</text>
<text font-size="13.5" letter-spacing="-0.3" fill="#1c1c1e" stroke="#1c1c1e" stroke-width="0.3" transform="translate(73 523.6) rotate(-90) scale(0.79 1)">70</text>
<text font-size="13.5" letter-spacing="1.22" fill="#1c1c1e" stroke="#1c1c1e" stroke-width="0.3" transform="translate(89 536.6) rotate(-90) scale(0.9 1)">2.76in</text>
<line x1="104.9" y1="536.7" x2="140.9" y2="502.1" stroke="#2e3032" stroke-width="1" />
<polygon points="140.9,502.1 136.8,509.38 133.47,505.92" fill="#111"/>
<polygon points="104.9,536.7 109,529.42 112.33,532.88" fill="#111"/>
<text font-size="13.5" textLength="43" lengthAdjust="spacing" x="-21.5" y="0" fill="#1c1c1e" stroke="#1c1c1e" stroke-width="0.3" transform="translate(120.8 515.4) rotate(-28) scale(0.92 1)">Φ 60.3</text>
<text font-size="13.5" textLength="48" lengthAdjust="spacing" x="-24" y="0" fill="#1c1c1e" stroke="#1c1c1e" stroke-width="0.3" transform="translate(126 530.8) rotate(-22) scale(0.92 1)">2.375in</text>
<line x1="122.6" y1="568" x2="222.6" y2="568" stroke="#2e3032" stroke-width="0.9" /><polygon points="122.6,568 130.6,566.4 130.6,569.6" fill="#2e3032"/><polygon points="222.6,568 214.6,569.6 214.6,566.4" fill="#2e3032"/>
<text font-size="12.6" letter-spacing="2.2" fill="#1c1c1e" stroke="#1c1c1e" stroke-width="0.3" transform="translate(161.6 566.6) scale(0.9 1)">111</text>
<text font-size="13" letter-spacing="1.54" fill="#1c1c1e" stroke="#1c1c1e" stroke-width="0.3" transform="translate(153.2 583.4) scale(0.9 1)">4.37in</text>
<path d="M498.2,597 V372 C498.2,364 520,366 532,368 C545,371 552,381 566.4,372 V598 C562,607 548,607 538,603 C527,598 515,592 503,594 C499,595 498.2,596 498.2,597 Z" fill="#f2f3f7" stroke="#3a3c3f" stroke-width="1.3" />
<path d="M532,368 C540,363 560,363 566.4,371 C565,379 548,377 540,372" fill="#f4f5f8" stroke="#3a3c3f" stroke-width="1.2" />
<path d="M498.2,597 C499,603 514,605 522,602.5 C527,601 529,599.5 528,598.5" fill="none" stroke="#3a3c3f" stroke-width="1.2" />
<path d="M499.5,599.5 C504,602 516,602.5 524,600" fill="none" stroke="#3a3c3f" stroke-width="0.9" />
<line x1="465.6" y1="517.7" x2="492" y2="517.7" stroke="#2e3032" stroke-width="1" />
<line x1="465.6" y1="524.5" x2="492" y2="524.5" stroke="#2e3032" stroke-width="1" />
<path d="M514,517.7 H495 Q491.6,517.7 491.6,521.1 Q491.6,524.5 495,524.5 H514" fill="#e4e6ea" stroke="#55585b" stroke-width="0.9" />
<path d="M592,506.4 H519.8 Q513.2,506.4 513.2,513.3 V531 Q513.2,537.5 519.8,537.5 H592 Z" fill="#f1f2f5" stroke="#4a4c4f" stroke-width="1" />
<path d="M523,506.4 H519.8 Q513.2,506.4 513.2,513.3 V531 Q513.2,537.5 519.8,537.5 H523" fill="none" stroke="#222" stroke-width="1.8" />
<line x1="527.9" y1="510.4" x2="527.9" y2="531" stroke="#6a6d70" stroke-width="1.3" />
<rect x="532" y="506.4" width="3.8" height="4.8" rx="0" fill="#fafafa" stroke="#2e3032" stroke-width="1" />
<rect x="532" y="531.6" width="3.8" height="5.9" rx="0" fill="#fafafa" stroke="#2e3032" stroke-width="1" />
<rect x="539.3" y="506.4" width="5.4" height="4.8" rx="0" fill="#fafafa" stroke="#2e3032" stroke-width="1" />
<rect x="539.3" y="531.6" width="5.4" height="5.9" rx="0" fill="#fafafa" stroke="#2e3032" stroke-width="1" />
<line x1="531" y1="511.4" x2="546" y2="511.4" stroke="#2e3032" stroke-width="0.9" />
<line x1="531" y1="531.4" x2="546" y2="531.4" stroke="#2e3032" stroke-width="0.9" />
<circle cx="521.3" cy="521.3" r="4.3" fill="#f4f4f6" stroke="#222" stroke-width="1.2" />
<path d="M517.2,521.3 H525.4 M521.3,517 V525.6" fill="none" stroke="#333" stroke-width="0.8" />
<line x1="516.6" y1="512.5" x2="516.6" y2="530.4" stroke="#222" stroke-width="1.2" />
<line x1="579.2" y1="509.7" x2="579.2" y2="534.6" stroke="#6a6d70" stroke-width="1.1" />
<line x1="584.3" y1="509.7" x2="584.3" y2="534.6" stroke="#6a6d70" stroke-width="1.1" />
<g transform="translate(600.8 432.7) scale(1)">
<path d="M-41.9,0 V42.7 H62.6 V-38.7 Q62.6,-42.7 58.6,-42.7 H0 Z" fill="#dbdddf" stroke="#55585b" stroke-width="1" />
<line x1="-38.3" y1="25" x2="-38.3" y2="42.7" stroke="#8b8e91" stroke-width="0.7" />
<rect x="19.5" y="-44.3" width="5" height="1.8" rx="0.8" fill="#555" stroke="none" stroke-width="0" />
<rect x="47.5" y="-44.3" width="5" height="1.8" rx="0.8" fill="#555" stroke="none" stroke-width="0" />
<rect x="62.8" y="-39.7" width="3.6" height="80.4" rx="0" fill="#9da0a3" stroke="#26282a" stroke-width="0.9" />
<path d="M66.4,-38.7 H75 Q78.5,-38.7 78.5,-35 V-8 H73 Q71.8,-8 71.8,-6.5 V7 Q71.8,8.5 73,8.5 H76.5 Q78.5,8.5 78.5,10.5 V35 Q78.5,38.8 75,38.8 H66.4 Z" fill="#e4e6e7" stroke="#26282a" stroke-width="1.4" />
<rect x="67.6" y="-36.2" width="9" height="2.6" rx="0.6" fill="#fafafa" stroke="#26282a" stroke-width="1.15" />
<rect x="67.6" y="-31.9" width="9" height="2.6" rx="0.6" fill="#fafafa" stroke="#26282a" stroke-width="1.15" />
<rect x="67.6" y="-27.6" width="9" height="2.6" rx="0.6" fill="#fafafa" stroke="#26282a" stroke-width="1.15" />
<rect x="67.6" y="-23.3" width="9" height="2.6" rx="0.6" fill="#fafafa" stroke="#26282a" stroke-width="1.15" />
<rect x="67.6" y="-19" width="9" height="2.6" rx="0.6" fill="#fafafa" stroke="#26282a" stroke-width="1.15" />
<rect x="67.6" y="-14.7" width="9" height="2.6" rx="0.6" fill="#fafafa" stroke="#26282a" stroke-width="1.15" />
<rect x="67.6" y="16" width="9" height="2.6" rx="0.6" fill="#fafafa" stroke="#26282a" stroke-width="1.15" />
<rect x="67.6" y="20.3" width="9" height="2.6" rx="0.6" fill="#fafafa" stroke="#26282a" stroke-width="1.15" />
<rect x="67.6" y="24.6" width="9" height="2.6" rx="0.6" fill="#fafafa" stroke="#26282a" stroke-width="1.15" />
<rect x="67.6" y="28.9" width="9" height="2.6" rx="0.6" fill="#fafafa" stroke="#26282a" stroke-width="1.15" />
<rect x="67.6" y="33.2" width="9" height="2.6" rx="0.6" fill="#fafafa" stroke="#26282a" stroke-width="1.15" />
<circle cx="0" cy="0" r="42.9" fill="#d9dbdd" stroke="#3c3e41" stroke-width="1.4" />
<circle cx="0" cy="0" r="38.9" fill="none" stroke="#fbfbfb" stroke-width="1.5" stroke-dasharray="3.2 3.59"/>
<circle cx="0" cy="0" r="35.3" fill="#f5f6f6" stroke="#5a5c5f" stroke-width="0.9" />
<line x1="-34.85" y1="-5.6" x2="34.85" y2="-5.6" stroke="#7a7d80" stroke-width="0.8" />
<line x1="-35.26" y1="-1.6" x2="35.26" y2="-1.6" stroke="#7a7d80" stroke-width="0.8" />
<line x1="-34.88" y1="5.4" x2="34.88" y2="5.4" stroke="#7a7d80" stroke-width="0.8" />
<circle cx="0" cy="0" r="26.6" fill="#f3f4f4" stroke="#5a5c5f" stroke-width="0.9" />
<rect x="-11.2" y="-20.8" width="5.6" height="3.2" rx="0.8" fill="#1e1e1e" stroke="none" stroke-width="0" />
<rect x="-11.2" y="-16.6" width="5.6" height="1.7" rx="0" fill="#1e1e1e" stroke="none" stroke-width="0" />
<circle cx="-8.4" cy="-19.4" r="0.7" fill="#eee" stroke="none" stroke-width="0" />
<rect x="-21.4" y="-13.5" width="44.2" height="26.4" rx="3.5" fill="#eceeee" stroke="#55585b" stroke-width="0.9" />
<rect x="-18.8" y="-11" width="38.6" height="21.4" rx="2" fill="#f6f7f7" stroke="#77797c" stroke-width="0.7" />
<text x="-9.8" y="-1.1" font-size="12.5" font-family="Liberation Mono,monospace" fill="#333" textLength="28.6" lengthAdjust="spacingAndGlyphs">8342</text>
<line x1="-16" y1="1" x2="20" y2="1" stroke="#888" stroke-width="0.5" />
<rect x="-17" y="3.5" width="28.8" height="4.9" rx="0" fill="#101010" stroke="none" stroke-width="0" />
<rect x="11.8" y="3.9" width="3.4" height="4.1" rx="1" fill="#fafafa" stroke="#222" stroke-width="0.8" />
<rect x="-13.6" y="14.4" width="28.8" height="5.4" rx="1" fill="#f8f8f8" stroke="#6a6d70" stroke-width="0.8" />
<text x="1" y="18.6" font-size="3.6" text-anchor="middle" fill="#555">0...10 bar</text>
</g>
<rect x="586.7" y="475.4" width="62.6" height="24.6" rx="0" fill="#e5e7e8" stroke="#55585b" stroke-width="0.9" />
<rect x="589.69" y="476.78" width="56.62" height="21.5" rx="0" fill="#dfe1e3" stroke="#a9acaf" stroke-width="0.6" />
<rect x="594.7" y="500" width="50.3" height="5.4" rx="0" fill="#e5e7e8" stroke="#55585b" stroke-width="0.9" />
<rect x="592.5" y="505.4" width="52.5" height="19.3" rx="1" fill="#e5e7e8" stroke="#55585b" stroke-width="0.9" />
<rect x="595.72" y="507.7" width="46.06" height="14.7" rx="0" fill="#dcdee0" stroke="#9ea1a4" stroke-width="0.6" />
<rect x="590.4" y="524.7" width="54.6" height="5.3" rx="0.8" fill="#e5e7e8" stroke="#55585b" stroke-width="0.9" />
<rect x="593" y="530" width="47.8" height="4.3" rx="0" fill="#d2d4d6" stroke="#55585b" stroke-width="0.9" />
<rect x="593" y="534.3" width="6.9" height="4.14" rx="0" fill="#e5e7e8" stroke="#55585b" stroke-width="0.8" />
<rect x="633.9" y="534.3" width="6.9" height="4.14" rx="0" fill="#e5e7e8" stroke="#55585b" stroke-width="0.8" />
<rect x="601" y="534.3" width="33.3" height="12.9" rx="0" fill="#e5e7e8" stroke="#2e3032" stroke-width="1" />
<line x1="608.99" y1="534.3" x2="608.99" y2="547.2" stroke="#2e3032" stroke-width="0.9" />
<line x1="626.31" y1="534.3" x2="626.31" y2="547.2" stroke="#2e3032" stroke-width="0.9" />
<line x1="601" y1="536.6" x2="634.3" y2="536.6" stroke="#2e3032" stroke-width="0.8" />
<rect x="607.5" y="547.2" width="20.01" height="3.2" rx="0" fill="#e5e7e8" stroke="#55585b" stroke-width="0.8" />
<rect x="606" y="550.4" width="23" height="15.6" rx="1" fill="#b4b6b9" stroke="#2e3032" stroke-width="1" />
<line x1="606.3" y1="553.16" x2="628.7" y2="551.66" stroke="#2c2e30" stroke-width="1.265" />
<line x1="606.3" y1="555.47" x2="628.7" y2="553.98" stroke="#2c2e30" stroke-width="1.265" />
<line x1="606.3" y1="557.78" x2="628.7" y2="556.29" stroke="#2c2e30" stroke-width="1.265" />
<line x1="606.3" y1="560.1" x2="628.7" y2="558.6" stroke="#2c2e30" stroke-width="1.265" />
<line x1="606.3" y1="562.41" x2="628.7" y2="560.91" stroke="#2c2e30" stroke-width="1.265" />
<line x1="606.3" y1="564.72" x2="628.7" y2="563.23" stroke="#2c2e30" stroke-width="1.265" />
<rect x="608.53" y="566" width="17.94" height="3.7" rx="0" fill="#e5e7e8" stroke="#55585b" stroke-width="0.8" />
<rect x="614" y="569.7" width="7.5" height="5.1" rx="0" fill="#f3f4f4" stroke="#2e3032" stroke-width="0.9" />
<rect x="649.4" y="475.4" width="14" height="24.6" rx="0" fill="#e5e7e8" stroke="#55585b" stroke-width="0.9" />
<path d="M649.4,500 H663.4 V503 H653 V507 H649.4 Z" fill="#e5e7e8" stroke="#55585b" stroke-width="0.8" />
<rect x="663.4" y="487" width="4.8" height="12" rx="2" fill="#e5e7e8" stroke="#2e3032" stroke-width="0.9" />
<rect x="662.2" y="480.5" width="2.4" height="4.5" rx="0" fill="#e5e7e8" stroke="#2e3032" stroke-width="0.7" />
<rect x="616.4" y="473.2" width="2.8" height="9.8" rx="1.2" fill="#f5f5f5" stroke="#2e3032" stroke-width="0.9" />
<rect x="588" y="506.4" width="6" height="13.6" rx="0" fill="#e5e7e8" stroke="#55585b" stroke-width="0.9" />
<text font-size="14.5" letter-spacing="2.61" fill="#1c1c1e" stroke="#1c1c1e" stroke-width="0.3" transform="translate(510.8 486.8) scale(0.82 1)">Φ60.3</text>
<line x1="499" y1="489.4" x2="566.2" y2="489.4" stroke="#1a1a1a" stroke-width="1.1" /><polygon points="499,489.4 510,486.9 510,491.9" fill="#111"/><polygon points="566.2,489.4 555.2,491.9 555.2,486.9" fill="#111"/>
<text font-size="14" letter-spacing="1.74" fill="#1c1c1e" stroke="#1c1c1e" stroke-width="0.3" transform="translate(503.2 503.8) scale(0.82 1)">Φ2.375in</text>
<line x1="473.2" y1="472" x2="473.2" y2="517.6" stroke="#2e3032" stroke-width="0.9" />
<polygon points="473.2,517.6 471,507.6 475.4,507.6" fill="#111"/>
<line x1="473.2" y1="526.8" x2="473.2" y2="546" stroke="#2e3032" stroke-width="0.9" />
<polygon points="473.2,526.8 475.4,536.8 471,536.8" fill="#111"/>
<text font-size="14.5" letter-spacing="2.81" fill="#1c1c1e" stroke="#1c1c1e" stroke-width="0.3" transform="translate(470.8 498) rotate(-90) scale(0.82 1)">Φ6</text>
<text font-size="14.5" letter-spacing="0.51" fill="#1c1c1e" stroke="#1c1c1e" stroke-width="0.3" transform="translate(487.4 515) rotate(-90) scale(0.82 1)">Φ0.236in</text>
</svg>
<div class="txt">
<h2>安装方式。</h2>
<p style="top:123.4px"><span style="left:376px">·</span><span style="left:386px">直装式</span><span style="left:446px">:</span><span style="left:458.5px;letter-spacing:1.4px">用户可利用螺纹管件或法兰</span><span style="left:705px">,</span></p>
<p style="top:153.2px"><span style="left:371px">将变送器直接安装于工艺过程设备</span><span style="left:675.5px;font-size:22px">。</span></p>
<p style="top:183.4px"><span style="left:375px">·</span><span style="left:384px">管架式</span><span style="left:444px">:</span><span style="left:456.5px;letter-spacing:1.42px">利用本公司提供的安装支架</span><span style="left:701px">,</span><span style="left:712px">采</span></p>
<p style="top:213.2px"><span style="left:371.5px">用导管引压方式将变送器装于水平管</span></p>
<p style="top:242.9px"><span style="left:371px">架</span><span class="bk" style="left:400.6px">[</span><span style="left:413.6px">见图①</span><span class="bk" style="left:472.6px">]</span><span style="left:493.4px;letter-spacing:1.45px">或垂直管架</span><span class="bk" style="left:607.1px">[</span><span style="left:617.6px">见图②</span><span class="bk" style="left:675.8px">]</span><span style="left:687px;font-size:21px">。</span></p>
<p style="top:272.3px"><span style="left:375.6px">·</span><span style="left:389.8px">墙装式</span><span style="left:452.4px">:</span><span style="left:470.6px;letter-spacing:1.62px">利用提供的支架</span><span style="left:615px">,</span><span style="left:633.4px;letter-spacing:1.3px">采用导管</span></p>
<p style="top:302.9px"><span style="left:370.4px;letter-spacing:1.52px">引压方式将变送器装于墙面</span><span class="bk" style="left:626.8px">[</span><span style="left:636.8px">见图③</span><span class="bk" style="left:696.2px">]</span><span style="left:707.4px;font-size:21px">。</span></p>
</div>
<div class="cap" style="left:108.6px;top:625.6px;font-size:13.6px;font-weight:500;">①</div><div class="cap" style="left:141px;top:625.5px;">安装于水平管架</div>
<div class="cap" style="left:502.8px;top:622.4px;font-size:13.6px;font-weight:500;">②</div><div class="cap" style="left:527px;top:622.2px;">安装于垂直管架</div>
</body>
</html>
